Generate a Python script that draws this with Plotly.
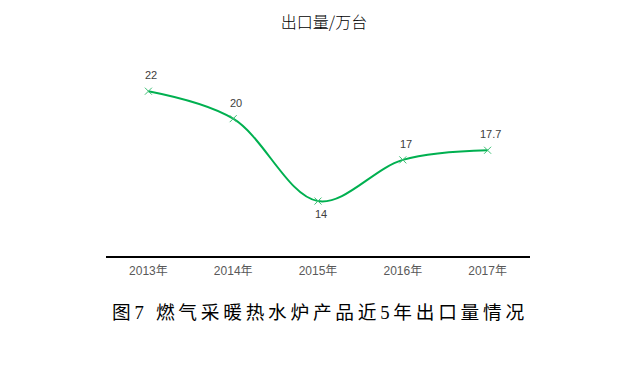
import plotly.graph_objects as go

years = ["2013年", "2014年", "2015年", "2016年", "2017年"]
exports = [22, 20, 14, 17, 17.7]
label_text = ["22", "20", "14", "17", "17.7"]
label_side = [1, 1, -1, 1, 1]

title_text = "出口量/万台"
caption_text = "图7 燃气采暖热水炉产品近5年出口量情况"

fig = go.Figure()
fig.add_trace(go.Scatter(
    x=years, y=exports, mode="lines+markers",
    line=dict(color="#00B050", width=2, shape="spline", smoothing=1),
    marker=dict(symbol="x-thin", size=7, line=dict(color="#3CBF74", width=1), color="#3CBF74"),
    hoverinfo="skip", showlegend=False,
))

for x, y, t, s in zip(years, exports, label_text, label_side):
    fig.add_annotation(x=x, y=y, text=t, showarrow=False, xshift=3, yshift=(16 if s > 0 else 13) * s,
                       font=dict(family="Liberation Sans, Arial, sans-serif", size=11, color="#404040"))

fig.add_annotation(xref="paper", yref="paper", x=0.5, y=-0.272, yanchor="middle",
                   text="\u2009".join(list(caption_text)), showarrow=False,
                   font=dict(family="'Liberation Serif', 'Noto Sans CJK SC', serif", size=18.7, color="#000000"))

fig.update_layout(
    width=632, height=362,
    margin=dict(l=98, r=110, t=42, b=114),
    paper_bgcolor="white", plot_bgcolor="white",
    title=dict(text=title_text, x=0.5, xanchor="center", y=0.961, yanchor="middle",
               font=dict(family="Noto Sans CJK SC, sans-serif", size=16, color="#000000", weight=300)),
    xaxis=dict(showgrid=False, showline=True, linecolor="#000000", linewidth=2, ticks="",
               ticklabelstandoff=3,
               tickfont=dict(family="Liberation Sans, Arial, Noto Sans CJK SC", size=12, color="#595959"),
               range=[-0.5, 4.5], zeroline=False),
    yaxis=dict(visible=False, range=[10, 25], showgrid=False, zeroline=False),
)

fig.write_html("out.html")
